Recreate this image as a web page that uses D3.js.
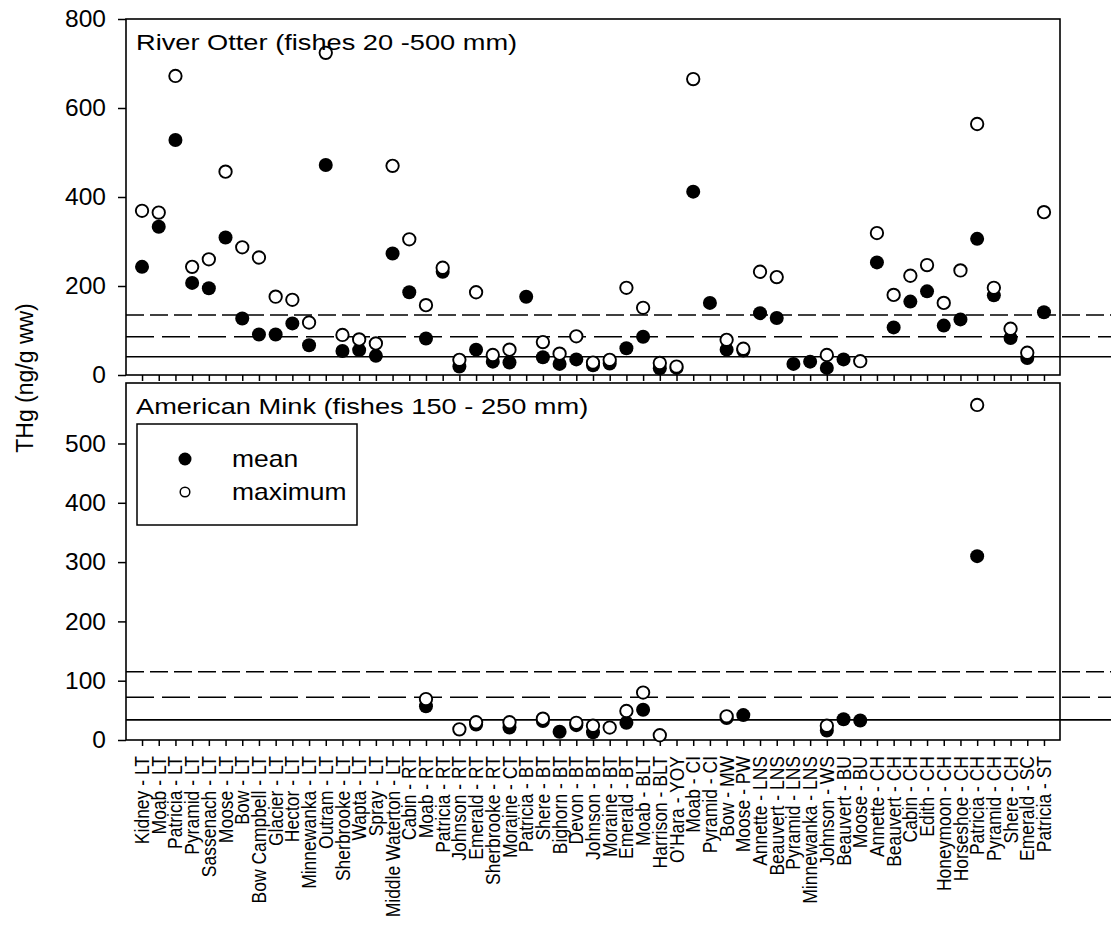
<!DOCTYPE html>
<html>
<head>
<meta charset="utf-8">
<script src="https://cdn.jsdelivr.net/npm/d3@7"></script>
<style>
  body { margin: 0; background: #fff; }
  svg { display: block; font-family: "Liberation Sans", Arial, sans-serif; }
</style>
</head>
<body>
<svg id="chart" width="1111" height="930"></svg>
<script>
const categories = [
    "Kidney - LT", "Moab - LT", "Patricia - LT", "Pyramid - LT", "Sassenach - LT",
    "Moose - LT", "Bow - LT", "Bow Campbell - LT", "Glacier - LT", "Hector - LT",
    "Minnewanka - LT", "Outram - LT", "Sherbrooke - LT", "Wapta - LT", "Spray - LT",
    "Middle Waterton - LT", "Cabin - RT", "Moab - RT", "Patricia - RT", "Johnson - RT",
    "Emerald - RT", "Sherbrooke - RT", "Moraine - CT", "Patricia - BT", "Shere - BT",
    "Bighorn - BT", "Devon - BT", "Johnson - BT", "Moraine - BT", "Emerald - BT",
    "Moab - BLT", "Harrison - BLT", "O'Hara - YOY", "Moab - CI", "Pyramid - CI",
    "Bow - MW", "Moose - PW", "Annette - LNS", "Beauvert - LNS", "Pyramid - LNS",
    "Minnewanka - LNS", "Johnson - WS", "Beauvert - BU", "Moose - BU", "Annette - CH",
    "Beauvert - CH", "Cabin - CH", "Edith - CH", "Honeymoon - CH", "Horseshoe - CH",
    "Patricia - CH", "Pyramid - CH", "Shere - CH", "Emerald - SC", "Patricia - ST"
];

// River Otter panel (ng/g ww)
const otterMean = [
    243, 333, 528, 207, 195, 309, 127, 91, 91, 116,
    67, 472, 54, 56, 43, 273, 186, 82, 232, 19,
    57, 30, 28, 176, 40, 25, 35, 22, 26, 60,
    86, 15, 16, 412, 162, 57, 55, 139, 128, 25,
    30, 16, 35, null, 253, 107, 165, 188, 111, 125,
    306, 179, 83, 38, 141
];
const otterMax = [
    369, 365, 672, 243, 260, 457, 287, 264, 176, 169,
    118, 724, 90, 80, 71, 470, 305, 157, 241, 34,
    186, 45, 57, null, 74, 48, 87, 28, 34, 196,
    151, 27, 19, 665, null, 79, 59, 232, 220, null,
    null, 45, null, 31, 319, 180, 223, 247, 162, 235,
    564, 196, 104, 50, 366
];

// American Mink panel (ng/g ww)
const minkMean = [
    null, null, null, null, null, null, null, null, null, null,
    null, null, null, null, null, null, null, 57, null, null,
    26, null, 21, null, 32, 14, 25, 13, null, 29,
    51, null, null, null, null, 37, 42, null, null, null,
    null, 16, 35, 33, null, null, null, null, null, null,
    310, null, null, null, null
];
const minkMax = [
    null, null, null, null, null, null, null, null, null, null,
    null, null, null, null, null, null, null, 69, null, 18,
    30, null, 30, null, 36, null, 29, 24, 21, 49,
    80, 8, null, null, null, 40, null, null, null, null,
    null, 24, null, null, null, null, null, null, null, null,
    565, null, null, null, null
];

const otterTicks = [0, 200, 400, 600, 800];
const minkTicks = [0, 100, 200, 300, 400, 500];
const otterRefs = [41, 86, 135];
const minkRefs = [34, 72, 115];

const svg = d3.select("#chart");
const left = 126, right = 1060;
const dashes = [null, "28,8", "18,6"];

const x = d3.scalePoint()
    .domain(categories)
    .range([left, right])
    .padding(0.96);

// the scanned figure's lettering is wider than Arial, so squash it out sideways
function stretchedText(g, px, py, sx, size, str) {
    g.append("g")
        .attr("transform", `translate(${px},${py}) scale(${sx},1)`)
        .append("text")
        .attr("font-size", size)
        .text(str);
}

function drawPanel(p) {
    const y = d3.scaleLinear().domain([0, p.max]).range([p.bottom, p.top]);
    const g = svg.append("g");

    // threshold lines run out past the frame to the page edge
    g.selectAll(".ref").data(p.refs).join("line")
        .attr("class", "ref")
        .attr("x1", left).attr("x2", 1111)
        .attr("y1", d => y(d)).attr("y2", d => y(d))
        .attr("stroke", "#000")
        .attr("stroke-width", 1.6)
        .attr("stroke-dasharray", (d, i) => dashes[i]);

    g.append("rect")
        .attr("x", left).attr("y", p.top)
        .attr("width", right - left).attr("height", p.bottom - p.top)
        .attr("fill", "none").attr("stroke", "#000").attr("stroke-width", 1.6);

    const yAxis = g.append("g")
        .attr("transform", `translate(${left},0)`)
        .call(d3.axisLeft(y).tickValues(p.ticks).tickSize(8).tickPadding(12));
    yAxis.select(".domain").remove();
    yAxis.attr("font-size", 24.5).attr("font-family", null);
    yAxis.selectAll("line").attr("stroke-width", 1.5);

    const xAxis = g.append("g")
        .attr("transform", `translate(0,${p.bottom})`)
        .call(d3.axisBottom(x).tickSize(6).tickFormat(""));
    xAxis.select(".domain").remove();
    xAxis.selectAll("line").attr("stroke-width", 1.5);

    const pts = (arr) => categories
        .map((c, i) => ({ c, v: arr[i] }))
        .filter(d => d.v != null);

    // means first, maxima (white filled) drawn over them
    g.selectAll(".mean").data(pts(p.mean)).join("circle")
        .attr("class", "mean")
        .attr("cx", d => x(d.c)).attr("cy", d => y(d.v))
        .attr("r", 7)
        .attr("fill", "#000");

    g.selectAll(".max").data(pts(p.maxv)).join("circle")
        .attr("class", "max")
        .attr("cx", d => x(d.c)).attr("cy", d => y(d.v))
        .attr("r", 6.2)
        .attr("fill", "#fff")
        .attr("stroke", "#000")
        .attr("stroke-width", 1.9);

    stretchedText(g, 136, p.top + 31, 1.21, 22.5, p.title);
    return y;
}

drawPanel({
    title: "River Otter (fishes 20 -500 mm)",
    top: 19, bottom: 375, max: 800,
    ticks: otterTicks, refs: otterRefs,
    mean: otterMean, maxv: otterMax
});

drawPanel({
    title: "American Mink (fishes 150 - 250 mm)",
    top: 383, bottom: 740, max: 602,
    ticks: minkTicks, refs: minkRefs,
    mean: minkMean, maxv: minkMax
});

// category labels under the lower panel, glyphs a bit wide like the scan
svg.append("g").selectAll("text").data(categories).join("text")
    .attr("transform", d => `translate(${x(d)},756) rotate(-90) scale(1,1.15)`)
    .attr("text-anchor", "end")
    .attr("dy", "0.35em")
    .attr("font-size", 17.5)
    .text(d => d);

svg.append("text")
    .attr("transform", "translate(25,378) rotate(-90)")
    .attr("text-anchor", "middle")
    .attr("dy", "0.35em")
    .attr("font-size", 23)
    .text("THg (ng/g ww)");

// legend
const legend = svg.append("g");
legend.append("rect")
    .attr("x", 137).attr("y", 424)
    .attr("width", 220).attr("height", 101)
    .attr("fill", "#fff").attr("stroke", "#000").attr("stroke-width", 1.5);
legend.append("circle")
    .attr("cx", 185).attr("cy", 459).attr("r", 6.5).attr("fill", "#000");
legend.append("circle")
    .attr("cx", 185).attr("cy", 492).attr("r", 4.8)
    .attr("fill", "#fff").attr("stroke", "#000").attr("stroke-width", 1.5);
stretchedText(legend, 232, 467, 1.15, 23, "mean");
stretchedText(legend, 232, 500, 1.15, 23, "maximum");
</script>
</body>
</html>
